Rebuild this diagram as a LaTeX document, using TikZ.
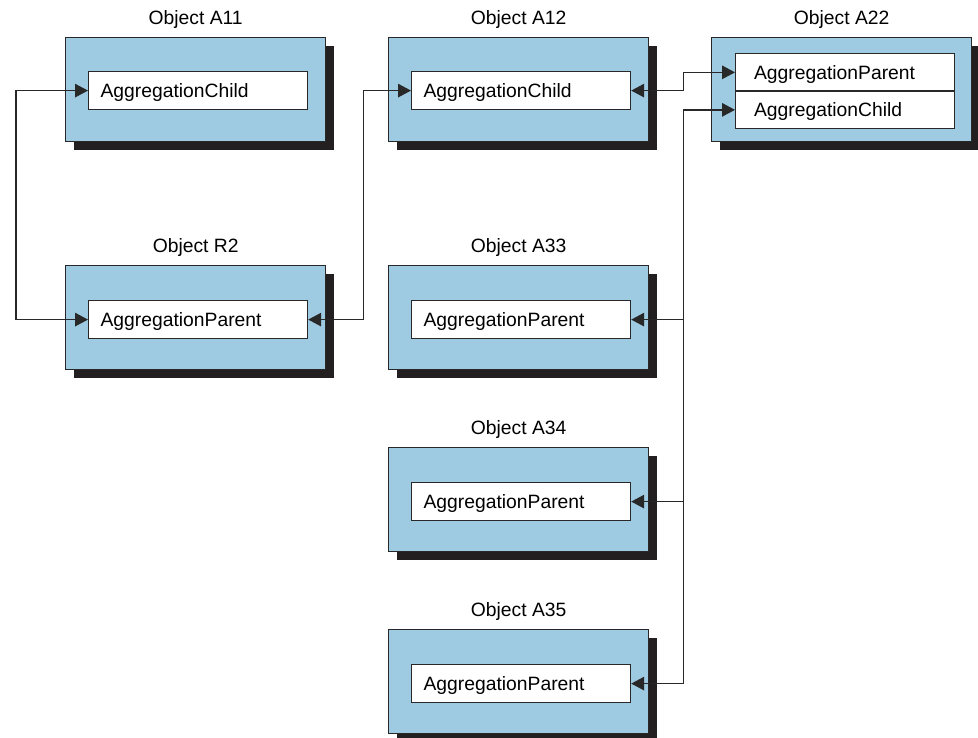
\documentclass[tikz,border=0pt]{standalone}
\usepackage{fontspec}
\setmainfont{Liberation Sans}
\usetikzlibrary{arrows.meta,shadows,calc}
\definecolor{boxblue}{RGB}{158,203,226}
\definecolor{shadowc}{RGB}{35,31,32}
\definecolor{edgec}{RGB}{40,40,40}
\begin{document}
\begin{tikzpicture}[x=1pt,y=-1pt,
  outerbox/.style={draw=edgec, line width=1.4pt, fill=boxblue, minimum width=260pt, minimum height=104pt, inner sep=0pt, anchor=north west,
    drop shadow={shadow xshift=8pt, shadow yshift=-8pt, fill=shadowc, opacity=1}},
  innerbox/.style={draw=edgec, line width=1.2pt, fill=white, text width=195pt, inner xsep=12pt, inner ysep=0pt, minimum height=38pt,
    text height=13.6pt, text depth=0pt, align=left, anchor=north west, font=\fontsize{19.3}{21}\selectfont},
  widepad/.style={text width=182pt, inner xsep=18.5pt, minimum height=37.5pt},
  titletext/.style={anchor=base, font=\fontsize{19.3}{21}\selectfont},
  conn/.style={draw=edgec, line width=1.4pt},
  tip/.tip={Triangle[length=13pt,width=13.5pt]},
]
\useasboundingbox (0,0) rectangle (978,738);

% outer boxes
\node[outerbox] (a11) at (65,37) {};
\node[outerbox] (a12) at (388,37) {};
\node[outerbox] (a22) at (711,37) {};
\node[outerbox] (r2) at (65,265) {};
\node[outerbox] (a33) at (388,265) {};
\node[outerbox] (a34) at (388,447) {};
\node[outerbox] (a35) at (388,629) {};

% titles
\node[titletext] (a11t) at ([yshift=12.5pt]a11.north) {Object A11};
\node[titletext] (a12t) at ([yshift=12.5pt]a12.north) {Object A12};
\node[titletext] (a22t) at ([yshift=12.5pt]a22.north) {Object A22};
\node[titletext] (r2t) at ([yshift=12.5pt]r2.north) {Object R2};
\node[titletext] (a33t) at ([yshift=12.5pt]a33.north) {Object A33};
\node[titletext] (a34t) at ([yshift=12.5pt]a34.north) {Object A34};
\node[titletext] (a35t) at ([yshift=12.5pt]a35.north) {Object A35};

% inner boxes
\node[innerbox] (a11c) at (88,71) {AggregationChild};
\node[innerbox] (a12c) at (411,71) {AggregationChild};
\node[innerbox, widepad] (a22p) at (735,53) {AggregationParent};
\node[innerbox, widepad] (a22c) at (735,90.5) {AggregationChild};
\node[innerbox] (r2p) at (88,300) {AggregationParent};
\node[innerbox] (a33p) at (411,300) {AggregationParent};
\node[innerbox] (a34p) at (411,482) {AggregationParent};
\node[innerbox] (a35p) at (411,664) {AggregationParent};

% connectors
\draw[conn, tip-tip] (a11c.west) -- ++(-72,0) |- (r2p.west);
\draw[conn, tip-tip] (r2p.east) -- ++(55,0) |- (a12c.west);
\draw[conn, tip-tip] (a12c.east) -- ++(52,0) |- (a22p.west);
\draw[conn, tip-tip] (a35p.east) -- ++(52,0) coordinate (bus) |- (a22c.west);
\draw[conn, -tip] (a33p.east -| bus) -- (a33p.east);
\draw[conn, -tip] (a34p.east -| bus) -- (a34p.east);
\end{tikzpicture}
\end{document}
